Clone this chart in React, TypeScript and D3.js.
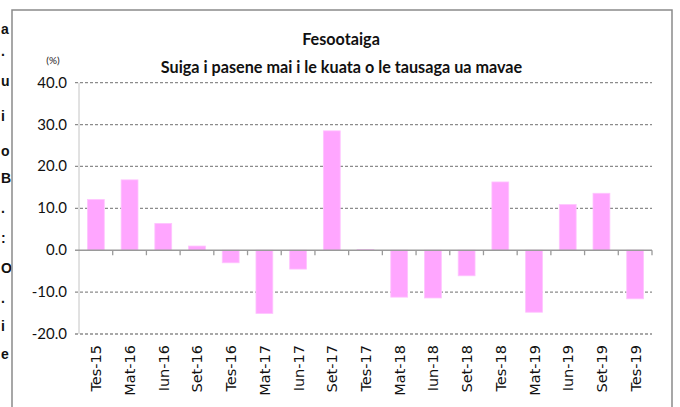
import React from "react";
import * as d3 from "d3";

// quarters and % change from previous quarter
const quarters = [
  "Tes-15", "Mat-16", "Iun-16", "Set-16", "Tes-16", "Mat-17", "Iun-17", "Set-17", "Tes-17",
  "Mat-18", "Iun-18", "Set-18", "Tes-18", "Mat-19", "Iun-19", "Set-19", "Tes-19",
];
const change = [
  12.1, 16.8, 6.4, 1.0, -3.0, -15.1, -4.5, 28.5, 0.2,
  -11.2, -11.4, -6.1, 16.3, -14.8, 10.9, 13.6, -11.6,
];
const yTicks = [-20, -10, 0, 10, 20, 30, 40];
const titleLines = ["Fesootaiga", "Suiga i pasene mai i le kuata o le tausaga ua mavae"];
// letters from the surrounding page, at the left edge
const strayLetters = ["a", ".", "u", "i", "o", "B", ".", ":", "O", ".", "i", "e"];
const strayY = [28, 50, 80, 115, 150, 177, 207, 237, 267, 297, 325, 353];

const W = 680;
const H = 407;
const plot = { left: 79, right: 652, top: 82.7, bottom: 334 };

export default function App() {
  const x = d3.scaleBand<string>().domain(quarters).range([plot.left, plot.right]).padding(0);
  const y = d3.scaleLinear().domain([-20, 40]).range([plot.bottom, plot.top]);
  const barW = x.bandwidth() * 0.5;
  const calibri = "Lato, 'Open Sans', sans-serif";

  return (
    <svg width={W} height={H} style={{ position: "absolute", left: 0, top: 0, background: "#fff" }}>
      {strayLetters.map((c, i) => (
        <text key={i} x={1} y={strayY[i] + 6} textAnchor="start" fontFamily="'Liberation Sans', sans-serif" fontWeight={700} fontSize={14} fill="#111">
          {c}
        </text>
      ))}

      {/* Chart frame */}
      <rect x={12} y={10} width={660} height={420} fill="#fff" stroke="#8a8a8a" strokeWidth={1.5} />

      {/* Title */}
      <text x={341} y={45} textAnchor="middle" fontFamily={calibri} fontWeight={700} fontSize={16.2} fill="#111">{titleLines[0]}</text>
      <text x={341.5} y={73} textAnchor="middle" fontFamily={calibri} fontWeight={700} fontSize={16.2} fill="#111">{titleLines[1]}</text>
      <text x={53} y={64} textAnchor="middle" fontFamily={calibri} fontSize={10} fill="#222">(%)</text>

      {/* Gridlines */}
      {yTicks.filter((t) => t !== 0).map((t) => (
        <line key={t} x1={plot.left - 4} x2={plot.right} y1={y(t)} y2={y(t)} stroke="#8c8c8c" strokeWidth={1.3} strokeDasharray="3,2" />
      ))}

      {/* Y axis */}
      <line x1={plot.left} x2={plot.left} y1={plot.top} y2={plot.bottom} stroke="#c4c4c4" strokeWidth={1} />
      {yTicks.map((t) => (
        <text key={t} x={67} y={y(t) + 5} textAnchor="end" fontFamily={calibri} fontSize={15} fill="#111">
          {t.toFixed(1)}
        </text>
      ))}

      {/* Bars */}
      {change.map((v, i) => {
        const cx = x(quarters[i])! + x.bandwidth() / 2;
        return (
          <rect key={i} x={cx - barW / 2} y={Math.min(y(v), y(0))} width={barW} height={Math.abs(y(v) - y(0))}
            fill="#ffa6ff" stroke="#ffc4ff" strokeWidth={0.8} />
        );
      })}

      {/* X axis at zero */}
      <line x1={plot.left - 4} x2={plot.right} y1={y(0)} y2={y(0)} stroke="#9a9a9a" strokeWidth={1.3} />
      {quarters.map((q) => (
        <line key={q} x1={x(q)! + x.bandwidth()} x2={x(q)! + x.bandwidth()} y1={y(0)} y2={y(0) + 5} stroke="#9a9a9a" strokeWidth={1.3} />
      ))}
      {quarters.map((q) => {
        const cx = x(q)! + x.bandwidth() / 2 + 5.5;
        return (
          <text key={q} transform={`translate(${cx},345) rotate(-90)`} textAnchor="end" fontFamily="'DejaVu Sans', Verdana, sans-serif" fontSize={14.5} fill="#111">
            {q}
          </text>
        );
      })}
    </svg>
  );
}
